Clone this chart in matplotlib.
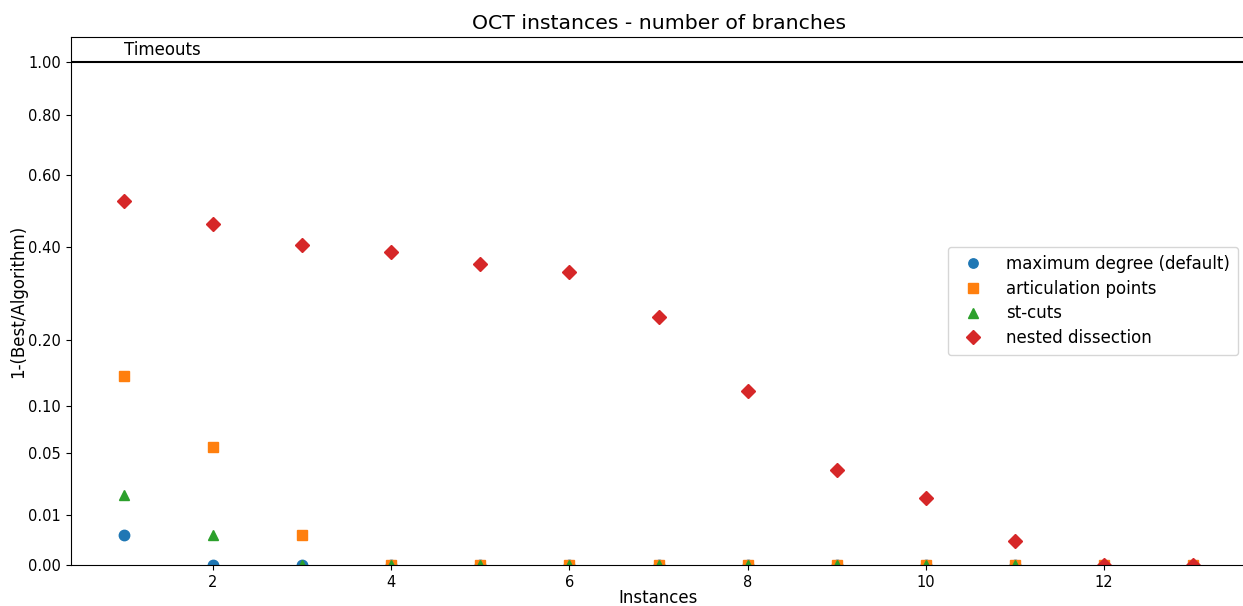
import numpy as np
import matplotlib
matplotlib.use("Agg")
import matplotlib.pyplot as plt

instances = list(range(1, 14))
max_degree = [0.0036, 0, 0, 0, 0, 0, 0, 0, 0, 0, 0, 0, 0]
articulation = [0.141, 0.055, 0.0036, 0, 0, 0, 0, 0, 0, 0, 0, 0, 0]
st_cuts = [0.0194, 0.0036, 0, 0, 0, 0, 0, 0, 0, 0, 0, 0, 0]
nested = [0.524, 0.460, 0.405, 0.387, 0.358, 0.339, 0.243, 0.1197, 0.0357,
          0.0177, 0.0023, 0, 0]
yticks = [0.0, 0.01, 0.05, 0.10, 0.20, 0.40, 0.60, 0.80, 1.00]

fig = plt.figure(figsize=(12.43, 6.06), dpi=100)
ax = fig.add_axes([70.5 / 1243, 1 - 565 / 606, (1246.5 - 70.5) / 1243, (565 - 37) / 606])

def fwd(y):
    return np.sqrt(np.clip(y, 0, None))

def inv(y):
    return np.square(y)

ax.set_yscale('function', functions=(fwd, inv))

ms = 7.5
ax.plot(instances, max_degree, 'o', color='#1f77b4', ms=ms, label='maximum degree (default)')
ax.plot(instances, articulation, 's', color='#ff7f0e', ms=ms, label='articulation points')
ax.plot(instances, st_cuts, '^', color='#2ca02c', ms=ms, label='st-cuts')
ax.plot(instances, nested, 'D', color='#d62728', ms=ms, label='nested dissection')

ax.axhline(1.0, color='black', lw=1.5)
ax.text(1, 1.012, 'Timeouts', fontsize=12, ha='left', va='bottom')

ax.set_ylim(0, 1.102)
ax.set_yticks(yticks)
ax.set_yticklabels([f'{v:.2f}' for v in yticks])
ax.set_xticks([2, 4, 6, 8, 10, 12])
ax.tick_params(labelsize=10.5)
ax.set_xlabel('Instances', fontsize=12)
ax.set_ylabel('1-(Best/Algorithm)', fontsize=12)
ax.yaxis.set_label_coords((27 - 70.5) / 1176, 0.5)
ax.xaxis.set_label_coords(0.5, -(607 - 565) / 528)
ax.xaxis.label.set_va('bottom')
ax.set_title('OCT instances - number of branches', fontsize=14.7)
ax.legend(loc='center right', fontsize=12, borderpad=0.5, labelspacing=0.4,
          handletextpad=1.0, markerscale=0.9)

fig.savefig('out.png', dpi=100)
